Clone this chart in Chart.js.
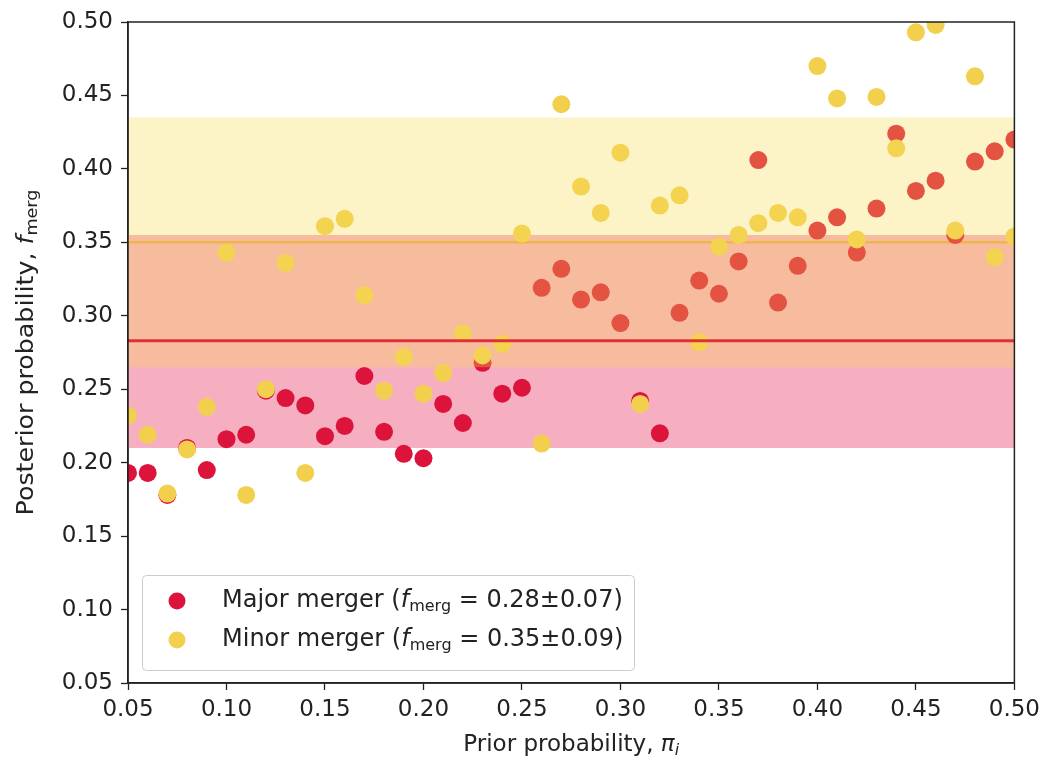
<!DOCTYPE html>
<html>
<head>
<meta charset="utf-8">
<script src="https://cdn.jsdelivr.net/npm/chart.js@4.4.0/dist/chart.umd.min.js"></script>
<style>
  html, body { margin: 0; padding: 0; background: #fff; }
  #wrap { width: 1046px; height: 762px; }
</style>
</head>
<body>
<div id="wrap"><canvas id="myChart" width="1046" height="762"></canvas></div>
<script>
  // prior probability pi_i (x) and posterior f_merg (y) for each merger class
  const priors = [0.05, 0.06, 0.07, 0.08, 0.09, 0.10, 0.11, 0.12, 0.13, 0.14,
                  0.15, 0.16, 0.17, 0.18, 0.19, 0.20, 0.21, 0.22, 0.23, 0.24,
                  0.25, 0.26, 0.27, 0.28, 0.29, 0.30, 0.31, 0.32, 0.33, 0.34,
                  0.35, 0.36, 0.37, 0.38, 0.39, 0.40, 0.41, 0.42, 0.43, 0.44,
                  0.45, 0.46, 0.47, 0.48, 0.49, 0.50];
  const majorPost = [0.193, 0.193, 0.178, 0.210, 0.195, 0.216, 0.219, 0.249, 0.244, 0.239,
                     0.218, 0.225, 0.259, 0.221, 0.206, 0.203, 0.240, 0.227, 0.268, 0.247,
                     0.251, 0.319, 0.332, 0.311, 0.316, 0.295, 0.242, 0.220, 0.302, 0.324,
                     0.315, 0.337, 0.406, 0.309, 0.334, 0.358, 0.367, 0.343, 0.373, 0.424,
                     0.385, 0.392, 0.355, 0.405, 0.412, 0.420];
  const minorPost = [0.232, 0.219, 0.179, 0.209, 0.238, 0.343, 0.178, 0.250, 0.336, 0.193,
                     0.361, 0.366, 0.314, 0.249, 0.272, 0.247, 0.261, 0.288, 0.273, 0.281,
                     0.356, 0.213, 0.444, 0.388, 0.370, 0.411, 0.240, 0.375, 0.382, 0.282,
                     0.347, 0.355, 0.363, 0.370, 0.367, 0.470, 0.448, 0.352, 0.449, 0.414,
                     0.493, 0.498, 0.358, 0.463, 0.340, 0.354];

  const xTicks = [0.05, 0.10, 0.15, 0.20, 0.25, 0.30, 0.35, 0.40, 0.45, 0.50];
  const yTicks = [0.05, 0.10, 0.15, 0.20, 0.25, 0.30, 0.35, 0.40, 0.45, 0.50];

  // fitted f_merg (mean, lower, upper)
  const majorFit = [0.283, 0.210, 0.355];
  const minorFit = [0.350, 0.265, 0.435];
  const seriesNames = ['Major merger', 'Minor merger'];
  const fitLabels = ['0.28\u00b10.07', '0.35\u00b10.09'];

  const FAM = '"DejaVu Sans", sans-serif';
  const RED = '#dc143c';
  const GOLD = '#f2d04e';
  const INK = '#222';

  const toPoints = ys => priors.map((x, i) => ({ x: x, y: ys[i] }));

  // draws text pieces one after another (italic f, subscripts)
  function richText(ctx, parts, x, y, align) {
    let w = 0;
    parts.forEach(p => { ctx.font = p.font; w += ctx.measureText(p.text).width; });
    let cx = align === 'center' ? x - w / 2 : x;
    parts.forEach(p => {
      ctx.font = p.font;
      ctx.fillText(p.text, cx, y + (p.dy || 0));
      cx += ctx.measureText(p.text).width;
    });
  }

  const main = '23px ' + FAM;
  const ital = 'oblique 23px ' + FAM;
  const sub = '16px ' + FAM;
  const legMain = '24px ' + FAM;
  const legItal = 'oblique 24px ' + FAM;

  const bandsPlugin = {
    id: 'bands',
    beforeDatasetsDraw(chart) {
      const { ctx, chartArea: a, scales: { y } } = chart;
      ctx.save();
      const t = y.getPixelForValue(majorFit[2]);
      const b = y.getPixelForValue(majorFit[1]);
      ctx.fillStyle = '#f6afc1';
      ctx.fillRect(a.left, t, a.right - a.left, b - t);
      const m = y.getPixelForValue(minorFit[0]);
      ctx.strokeStyle = '#eea24c';
      ctx.lineWidth = 2.5;
      ctx.beginPath();
      ctx.moveTo(a.left, m);
      ctx.lineTo(a.right, m);
      ctx.stroke();
      ctx.restore();
    },
    afterDatasetsDraw(chart) {
      const { ctx, chartArea: a, scales: { y } } = chart;
      ctx.save();
      // minor band, translucent over the points
      const t = y.getPixelForValue(minorFit[2]);
      const b = y.getPixelForValue(minorFit[1]);
      ctx.fillStyle = 'rgba(246, 218, 80, 0.32)';
      ctx.fillRect(a.left, t, a.right - a.left, b - t);
      // major mean line
      const m = y.getPixelForValue(majorFit[0]);
      ctx.strokeStyle = '#e0303a';
      ctx.lineWidth = 3;
      ctx.beginPath();
      ctx.moveTo(a.left, m);
      ctx.lineTo(a.right, m);
      ctx.stroke();
      // frame
      ctx.strokeStyle = INK;
      ctx.lineWidth = 1.5;
      ctx.strokeRect(a.left, a.top, a.right - a.left, a.bottom - a.top);

      // legend box
      ctx.fillStyle = 'rgba(255,255,255,0.85)';
      ctx.strokeStyle = '#cccccc';
      ctx.lineWidth = 1;
      ctx.beginPath();
      ctx.roundRect(142.5, 575.5, 492, 95, 4);
      ctx.fill();
      ctx.stroke();
      const colors = [RED, GOLD];
      ctx.textBaseline = 'middle';
      ctx.textAlign = 'left';
      seriesNames.forEach((name, i) => {
        const ly = 601 + i * 39;
        ctx.fillStyle = colors[i];
        ctx.beginPath();
        ctx.arc(177, ly, 8.5, 0, Math.PI * 2);
        ctx.fill();
        ctx.fillStyle = INK;
        richText(ctx, [
          { text: name + ' (', font: legMain },
          { text: 'f', font: legItal },
          { text: 'merg', font: sub, dy: 6 },
          { text: ' = ' + fitLabels[i] + ')', font: legMain }
        ], 222, ly, 'left');
      });

      // axis titles
      ctx.fillStyle = INK;
      richText(ctx, [
        { text: 'Prior probability, ', font: main },
        { text: '\u03c0', font: ital },
        { text: 'i', font: 'oblique 16px ' + FAM, dy: 6 }
      ], (a.left + a.right) / 2, 745, 'center');
      ctx.translate(27, (a.top + a.bottom) / 2);
      ctx.rotate(-Math.PI / 2);
      ctx.scale(1.1, 1);
      richText(ctx, [
        { text: 'Posterior probability, ', font: main },
        { text: 'f', font: ital },
        { text: 'merg', font: sub, dy: 6 }
      ], 0, 0, 'center');
      ctx.restore();
    }
  };

  const tickFont = { family: FAM, size: 23 };

  const ctx = document.getElementById('myChart').getContext('2d');
  const myChart = new Chart(ctx, {
    type: 'scatter',
    data: {
      datasets: [{
        label: seriesNames[0],
        data: toPoints(majorPost),
        backgroundColor: RED,
        pointRadius: 9,
        pointBorderWidth: 0,
        clip: 0,
        order: 2
      }, {
        label: seriesNames[1],
        data: toPoints(minorPost),
        backgroundColor: GOLD,
        pointRadius: 9,
        pointBorderWidth: 0,
        clip: 0,
        order: 1
      }]
    },
    options: {
      responsive: false,
      animation: false,
      layout: { padding: { top: 22, right: 31, left: 0, bottom: 0 } },
      plugins: {
        legend: { display: false },
        tooltip: { enabled: false }
      },
      scales: {
        x: {
          type: 'linear',
          min: 0.05,
          max: 0.5,
          afterBuildTicks: ax => { ax.ticks = xTicks.map(v => ({ value: v })); },
          afterFit: ax => { ax.height = 79; },
          grid: { drawOnChartArea: false, drawTicks: true, tickLength: 7, tickWidth: 1.3, tickColor: INK },
          border: { display: true, color: INK, width: 1.5 },
          ticks: { color: INK, font: tickFont, padding: 6, maxRotation: 0, autoSkip: false,
                   callback: v => v.toFixed(2) }
        },
        y: {
          type: 'linear',
          min: 0.05,
          max: 0.5,
          afterBuildTicks: ax => { ax.ticks = yTicks.map(v => ({ value: v })); },
          afterFit: ax => { ax.width = 128; },
          grid: { drawOnChartArea: false, drawTicks: true, tickLength: 7, tickWidth: 1.3, tickColor: INK },
          border: { display: true, color: INK, width: 1.5 },
          ticks: { color: INK, font: tickFont, padding: 8, autoSkip: false,
                   callback: v => v.toFixed(2) }
        }
      }
    },
    plugins: [bandsPlugin]
  });
</script>
</body>
</html>
